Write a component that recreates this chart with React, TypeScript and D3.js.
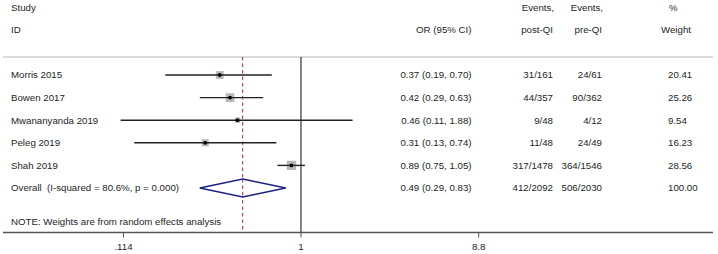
import React, { useEffect, useRef } from 'react';
import * as d3 from 'd3';

const studies = ['Morris 2015', 'Bowen 2017', 'Mwananyanda 2019', 'Peleg 2019', 'Shah 2019'];
const orValues = [0.37, 0.42, 0.46, 0.31, 0.89];
const ciLow = [0.19, 0.29, 0.11, 0.13, 0.75];
const ciHigh = [0.70, 0.63, 1.88, 0.74, 1.05];
const eventsPost = ['31/161', '44/357', '9/48', '11/48', '317/1478'];
const eventsPre = ['24/61', '90/362', '4/12', '24/49', '364/1546'];
const weights = [20.41, 25.26, 9.54, 16.23, 28.56];

const overallLabel = 'Overall  (I-squared = 80.6%, p = 0.000)';
const overall = { or: 0.49, lo: 0.29, hi: 0.83, post: '412/2092', pre: '506/2030', weight: 100.0 };

const tickValues = [0.114, 1, 8.8];
const tickLabels = ['.114', '1', '8.8'];

const fmt2 = d3.format('.2f');

const App = () => {
  const svgRef = useRef<SVGSVGElement>(null);

  useEffect(() => {
    const svg = d3.select(svgRef.current);
    svg.selectAll('*').remove();

    const font = '"Liberation Sans", Arial, Helvetica, sans-serif';
    const fs = 9.7;
    const textCol = '#1e1e1e';

    const x = d3.scaleLog().domain([0.114, 8.8]).range([123.5, 478.7]);
    const rowY = d3.scaleLinear().domain([0, 5]).range([75, 188]);
    const boxSize = d3.scaleSqrt().domain([0, 28.56]).range([0, 9.3]);

    const headerLineY = 57;
    const axisY = 232.5;

    const g = svg.append('g')
      .style('font-family', font)
      .style('font-size', `${fs}px`)
      .style('white-space', 'pre');

    const txt = (tx: number, ty: number, s: string, anchor = 'start') =>
      g.append('text')
        .attr('x', tx)
        .attr('y', ty)
        .attr('dy', '0.35em')
        .attr('text-anchor', anchor)
        .attr('fill', textCol)
        .attr('xml:space', 'preserve')
        .text(s);

    // headers
    txt(11, 7.5, 'Study');
    txt(11, 30, 'ID');
    txt(471.5, 30, 'OR (95% CI)', 'end');
    txt(554, 7.5, 'Events,', 'end');
    txt(553, 30, 'post-QI', 'end');
    txt(603, 7.5, 'Events,', 'end');
    txt(602, 30, 'pre-QI', 'end');
    txt(669, 7.5, '%');
    txt(661, 30, 'Weight');

    // header rule
    g.append('line')
      .attr('x1', 3).attr('x2', 713)
      .attr('y1', headerLineY).attr('y2', headerLineY)
      .attr('stroke', '#cfcfcf').attr('stroke-width', 1.5);

    // x axis
    g.append('line')
      .attr('x1', 3).attr('x2', 713)
      .attr('y1', axisY).attr('y2', axisY)
      .attr('stroke', '#555').attr('stroke-width', 1.5);

    tickValues.forEach((v, i) => {
      g.append('line')
        .attr('x1', x(v)).attr('x2', x(v))
        .attr('y1', axisY).attr('y2', axisY + 5)
        .attr('stroke', '#555').attr('stroke-width', 1);
      txt(x(v), 246.5, tickLabels[i], 'middle');
    });

    // no-effect line
    g.append('line')
      .attr('x1', x(1)).attr('x2', x(1))
      .attr('y1', headerLineY).attr('y2', axisY)
      .attr('stroke', '#444').attr('stroke-width', 1.3);

    // overall effect line
    g.append('line')
      .attr('x1', x(overall.or)).attr('x2', x(overall.or))
      .attr('y1', headerLineY).attr('y2', axisY)
      .attr('stroke', '#b5243a').attr('stroke-width', 1)
      .attr('stroke-dasharray', '3.5,3');

    // study rows
    studies.forEach((s, i) => {
      const y = rowY(i);
      const sz = boxSize(weights[i]);
      g.append('rect')
        .attr('x', x(orValues[i]) - sz / 2)
        .attr('y', y - sz / 2)
        .attr('width', sz)
        .attr('height', sz)
        .attr('fill', '#b8b8b8');
      g.append('line')
        .attr('x1', x(ciLow[i])).attr('x2', x(ciHigh[i]))
        .attr('y1', y).attr('y2', y)
        .attr('stroke', '#222').attr('stroke-width', 1.4);
      g.append('circle')
        .attr('cx', x(orValues[i])).attr('cy', y).attr('r', 1.9)
        .attr('fill', '#000');

      txt(11, y, s);
      txt(471.5, y, `${fmt2(orValues[i])} (${fmt2(ciLow[i])}, ${fmt2(ciHigh[i])})`, 'end');
      txt(553, y, eventsPost[i], 'end');
      txt(602, y, eventsPre[i], 'end');
      txt(668, y, fmt2(weights[i]));
    });

    // overall row
    const oy = rowY(5);
    const diamond: [number, number][] = [
      [x(overall.lo), oy],
      [x(overall.or), oy - 9],
      [x(overall.hi), oy],
      [x(overall.or), oy + 9],
    ];
    g.append('path')
      .attr('d', d3.line()(diamond) + 'Z')
      .attr('fill', 'white')
      .attr('stroke', '#1c1f86')
      .attr('stroke-width', 1.5);

    // dashed line stays visible through the diamond
    g.append('line')
      .attr('x1', x(overall.or)).attr('x2', x(overall.or))
      .attr('y1', oy - 9).attr('y2', oy + 9)
      .attr('stroke', '#b5243a').attr('stroke-width', 1)
      .attr('stroke-dasharray', '3.5,3');

    txt(11, oy, overallLabel);
    txt(471.5, oy, `${fmt2(overall.or)} (${fmt2(overall.lo)}, ${fmt2(overall.hi)})`, 'end');
    txt(553, oy, overall.post, 'end');
    txt(602, oy, overall.pre, 'end');
    txt(668, oy, fmt2(overall.weight));

    txt(11, 221.5, 'NOTE: Weights are from random effects analysis');
  }, []);

  return (
    <svg
      ref={svgRef}
      width={718}
      height={254}
      style={{ position: 'absolute', left: 0, top: 0, background: 'white', display: 'block' }}
    />
  );
};

export default App;
